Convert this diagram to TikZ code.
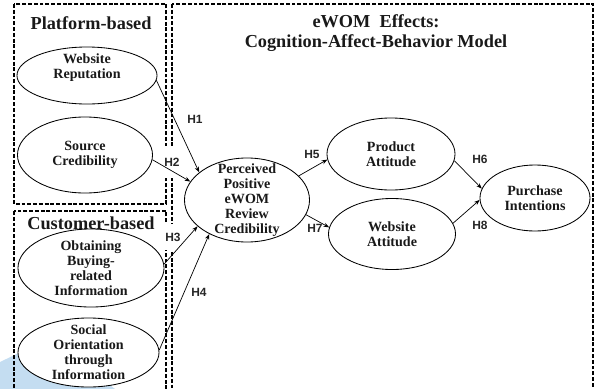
\documentclass[tikz,border=0pt]{standalone}
\usepackage{fontspec}
\setmainfont{Liberation Serif}
\newfontfamily\hfont{Liberation Sans}
\usetikzlibrary{arrows.meta, shapes.geometric}
\definecolor{swoosh}{RGB}{196,221,241}

\begin{document}
\begin{tikzpicture}[
    x=0.025cm, y=-0.025cm,
    construct/.style={ellipse, draw, line width=0.6pt, fill=white, inner sep=0pt},
    ctext/.style={font=\fontsize{10}{10.6}\selectfont\bfseries, align=center, text=black!90},
    group/.style={draw, line width=1.5pt, dash pattern=on 2.8pt off 1.3pt},
    title/.style={font=\fontsize{13}{14.2}\selectfont\bfseries, align=center, text=black!90},
    hyp/.style={font=\hfont\bfseries\fontsize{8.5}{10}\selectfont, inner sep=1pt, text=black!85},
    hgap/.style={hyp, fill=white, minimum height=#1},
    arrow/.style={-{Stealth[length=4pt, width=3pt]}, line width=0.5pt}
]

\useasboundingbox (0,0) rectangle (601,389);

% ============ GROUP FRAMES ============
\begin{scope}
    \clip (0,0) rectangle (601,389);
    \fill[swoosh] (0,362) -- (50,338) -- (115,389) -- (0,389) -- cycle;
    \draw[group] (14,4) rectangle (166,204);
    \draw[group] (14,211) rectangle (166,400);
    \draw[group] (172,4) rectangle (593,400);
\end{scope}

% Titles
\node[title] (ptitle) at (91,23) {Platform-based};
\node[title] (ctitle) at (91,223) {Customer-based};
\node[title] (etitle) at (376,33) {eWOM\ \ Effects:\\Cognition-Affect-Behavior Model};

% ============ HYPOTHESIS LABELS ============
\node[hyp] (h1) at (195,119) {H1};
\node[hgap=0.8cm] (h2) at (172,162) {H2};
\node[hgap=0.65cm] (h3) at (173,237) {H3};
\node[hyp] (h4) at (199,292) {H4};
\node[hyp] (h5) at (312,154) {H5};
\node[hyp] (h6) at (480,159) {H6};
\node[hyp] (h7) at (315,228) {H7};
\node[hyp] (h8) at (480,225) {H8};

% ============ CONSTRUCTS ============
% Platform-based
\node[construct, minimum width=3.5cm, minimum height=1.425cm,
    label={[ctext, yshift=0.2cm]center:Website\\Reputation}] (wrep) at (87,75.5) {};
\node[construct, minimum width=3.375cm, minimum height=1.9cm,
    label={[ctext]center:Source\\Credibility}] (srccred) at (85,155) {};

% Customer-based
\node[construct, minimum width=3.65cm, minimum height=1.95cm,
    label={[ctext]center:Obtaining\\Buying-\\related\\Information}] (obtain) at (91,268) {};
\node[construct, minimum width=3.525cm, minimum height=1.725cm,
    label={[ctext]center:Social\\Orientation\\through\\Information}] (social) at (88.5,352.5) {};

% eWOM effects
\node[construct, minimum width=3.125cm, minimum height=2.1cm,
    label={[ctext]center:Perceived\\Positive\\eWOM\\Review\\Credibility}] (percv) at (247,200) {};
\node[construct, minimum width=3.2cm, minimum height=1.8cm,
    label={[ctext]center:Product\\Attitude}] (prodatt) at (391,154) {};
\node[construct, minimum width=3.175cm, minimum height=1.775cm,
    label={[ctext]center:Website\\Attitude}] (webatt) at (392,234) {};
\node[construct, minimum width=2.75cm, minimum height=1.65cm,
    label={[ctext]center:Purchase\\Intentions}] (purch) at (535,198) {};

% ============ PATHS ============
\draw[arrow] (wrep.-4) -- (percv.150);
\draw[arrow] (srccred.-4) -- (percv.162);
\draw[arrow] (obtain.3) -- (percv.-152);
\draw[arrow] (social.2) -- (percv.-138);
\draw[arrow] (percv.25) -- (prodatt.185);
\draw[arrow] (percv.-14) -- (webatt.174);
\draw[arrow] (prodatt.-6) -- (purch.170);
\draw[arrow] (webatt.10) -- (purch.182);

\end{tikzpicture}
\end{document}
